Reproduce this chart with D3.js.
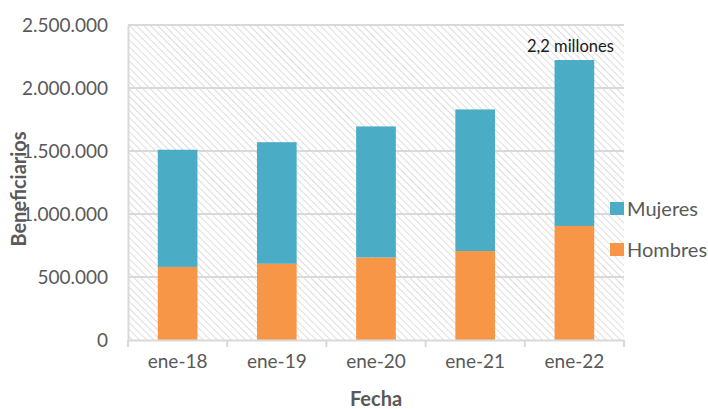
<!DOCTYPE html>
<html>
<head>
<meta charset="utf-8">
<script src="https://cdn.jsdelivr.net/npm/d3@7"></script>
<style>
  body { margin: 0; background: #fff; }
  text { font-family: Lato, "Open Sans", sans-serif; }
</style>
</head>
<body>
<div id="chart"></div>
<script>
// Data
const fechas = ["ene-18", "ene-19", "ene-20", "ene-21", "ene-22"];
const hombres = [580000, 605000, 655000, 706000, 905000];
const mujeres = [930000, 965000, 1040000, 1124000, 1317000];
const yTicks = [0, 500000, 1000000, 1500000, 2000000, 2500000];
const series = ["Hombres", "Mujeres"];
const colors = {Hombres: "#F79646", Mujeres: "#4BACC6"};

const W = 708, H = 409;
const margin = {left: 128, right: 84, top: 25, bottom: 69};
const width = W - margin.left - margin.right;
const height = H - margin.top - margin.bottom;

const rows = fechas.map((f, i) => ({fecha: f, Hombres: hombres[i], Mujeres: mujeres[i]}));
const stacked = d3.stack().keys(series)(rows);

const x = d3.scaleBand().domain(fechas).range([0, width]).paddingInner(0.6).paddingOuter(0.3);
const y = d3.scaleLinear().domain([0, 2500000]).range([height, 0]);
const fmt = d => d3.format(",")(d).replace(/,/g, ".");

const svg = d3.select("#chart").append("svg").attr("width", W).attr("height", H);

// hatch pattern (lines running top-left to bottom-right)
const pat = svg.append("defs").append("pattern")
    .attr("id", "hatch").attr("patternUnits", "userSpaceOnUse")
    .attr("width", 5).attr("height", 5)
    .attr("patternTransform", "rotate(-45)");
pat.append("line").attr("x1", 0).attr("y1", 0).attr("x2", 0).attr("y2", 5)
    .attr("stroke", "#cfcfcf").attr("stroke-width", 1.4);

const g = svg.append("g").attr("transform", `translate(${margin.left},${margin.top})`);

g.append("rect").attr("width", width).attr("height", height).attr("fill", "url(#hatch)");

// gridlines
g.selectAll(".grid").data(yTicks.slice(1)).enter().append("line")
    .attr("x1", 0).attr("x2", width)
    .attr("y1", d => y(d)).attr("y2", d => y(d))
    .attr("stroke", "#d9d9d9").attr("stroke-width", 2);

// y axis
const yAxis = g.append("g").call(d3.axisLeft(y).tickValues(yTicks).tickFormat(fmt).tickSize(0).tickPadding(20));
yAxis.select(".domain").attr("stroke", "#d9d9d9").attr("stroke-width", 2);
yAxis.selectAll("text").attr("fill", "#595959").style("font-size", "19px").attr("font-family", "Lato, sans-serif");

// bars
g.selectAll(".serie").data(stacked).enter().append("g")
    .attr("fill", d => colors[d.key])
  .selectAll("rect").data(d => d).enter().append("rect")
    .attr("x", d => x(d.data.fecha))
    .attr("width", x.bandwidth())
    .attr("y", d => y(d[1]))
    .attr("height", d => y(d[0]) - y(d[1]));

// x axis
const step = x.step();
const xAxis = g.append("g").attr("transform", `translate(0,${height})`)
    .call(d3.axisBottom(x).tickSize(0).tickPadding(15));
xAxis.select(".domain").attr("stroke", "#d9d9d9").attr("stroke-width", 2);
xAxis.selectAll("text").attr("fill", "#595959").style("font-size", "19px").attr("font-family", "Lato, sans-serif");
xAxis.selectAll(".sep").data(d3.range(fechas.length + 1)).enter().append("line")
    .attr("x1", i => i * step).attr("x2", i => i * step)
    .attr("y1", 0).attr("y2", 7)
    .attr("stroke", "#d9d9d9").attr("stroke-width", 2);

// annotation
const last = fechas.length - 1;
g.append("text")
    .attr("x", x(fechas[last]) + x.bandwidth() / 2 - 4)
    .attr("y", y(hombres[last] + mujeres[last]) - 8)
    .attr("text-anchor", "middle")
    .attr("fill", "#1a1a1a").style("font-size", "16.5px")
    .text("2,2 millones");

// axis titles
svg.append("text").attr("x", margin.left + width / 2).attr("y", 406)
    .attr("text-anchor", "middle").attr("font-weight", "bold")
    .attr("fill", "#595959").style("font-size", "20px").text("Fecha");
svg.append("text").attr("transform", `translate(26,189) rotate(-90)`)
    .attr("text-anchor", "middle").attr("font-weight", "bold")
    .attr("fill", "#595959").style("font-size", "20px").text("Beneficiarios");

// legend
const legend = svg.append("g").attr("transform", "translate(610,202)");
const legItems = legend.selectAll("g").data(["Mujeres", "Hombres"]).enter().append("g")
    .attr("transform", (d, i) => `translate(0,${i * 41})`);
legItems.append("rect").attr("width", 14).attr("height", 13).attr("fill", d => colors[d]);
legItems.append("text").attr("x", 17).attr("y", 14)
    .attr("fill", "#595959").style("font-size", "20px").text(d => d);
</script>
</body>
</html>
